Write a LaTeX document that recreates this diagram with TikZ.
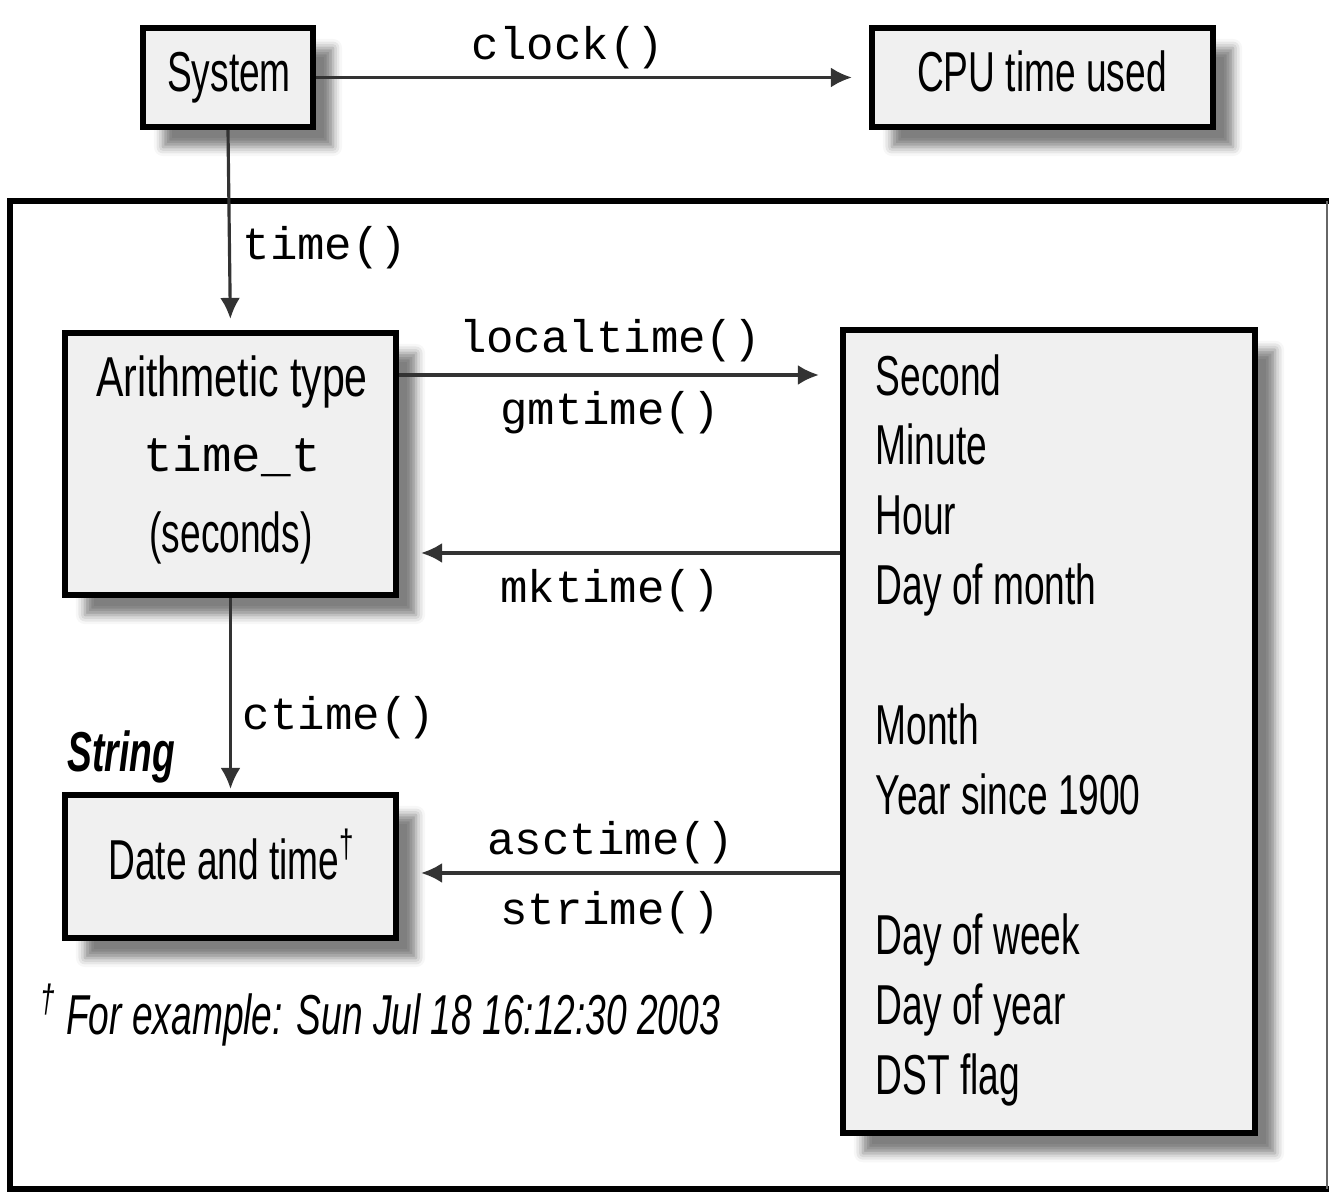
\documentclass[tikz,border=0pt]{standalone}
\usepackage{fontspec}
\setmainfont{Liberation Sans}[FakeStretch=0.66]
\newfontfamily\codefont{Liberation Mono}
\usetikzlibrary{arrows.meta,shadows.blur}
\definecolor{boxfill}{HTML}{F0F0F0}
\definecolor{linegray}{HTML}{333333}
\tikzset{
  x=0.01cm, y=-0.01cm,
  box/.style={draw=black, line width=1.7pt, fill=boxfill, inner sep=0pt,
    blur shadow={shadow xshift=0.2cm, shadow yshift=-0.2cm, shadow blur radius=0.09cm, shadow opacity=50}},
  txt/.style={font=\fontsize{16}{18}\selectfont, anchor=base, inner sep=0pt},
  ltxt/.style={txt, anchor=base west},
  code/.style={font=\codefont\fontsize{13}{15}\selectfont, anchor=base, inner sep=0pt},
  arr/.style={draw=linegray, line width=0.9pt, -{Latex[length=0.21cm,width=0.2cm]}},
}
\begin{document}
\begin{tikzpicture}
\useasboundingbox (0,0) rectangle (1329,1192);
% outer frame
\draw[line width=1.6pt, line join=miter] (1329,201) -- (10,201) -- (10,1189) -- (1329,1189);
\draw[line width=0.5pt, black!60] (1327,201) -- (1327,1189);

% boxes
\node[box, minimum width=1.70cm, minimum height=0.99cm] (sys) at (228,77.5) {};
\node[box, minimum width=3.41cm, minimum height=0.99cm] (cpu) at (1042.5,77.5) {};
\node[box, minimum width=3.31cm, minimum height=2.62cm] (arith) at (230.5,464) {};
\node[box, minimum width=3.31cm, minimum height=1.43cm] (date) at (230.5,866.5) {};
\node[box, minimum width=4.12cm, minimum height=8.03cm] (big) at (1049,731.5) {};

% box texts
\node[txt] (systxt) at (229,92) {System};
\node[txt] (cputxt) at (1042,92) {CPU time used};
\node[txt, font=\addfontfeature{FakeStretch=0.73}\fontsize{16}{18}\selectfont] (ar1) at (232,397) {Arithmetic type};
\node[code, font=\codefont\fontsize{14}{16}\selectfont] (ar2) at (232,472) {time\_t};
\node[txt] (ar3) at (231,553) {(seconds)};
\node[txt] (datetxt) at (232,880) {Date and time\textsuperscript{†}};

\node[ltxt] (f1) at (875,396) {Second};
\node[ltxt] (f2) at (875,465) {Minute};
\node[ltxt] (f3) at (875,535) {Hour};
\node[ltxt] (f4) at (875,605) {Day of month};
\node[ltxt] (f5) at (875,745) {Month};
\node[ltxt] (f6) at (875,815) {Year since 1900};
\node[ltxt] (f7) at (875,955) {Day of week};
\node[ltxt] (f8) at (875,1025) {Day of year};
\node[ltxt] (f9) at (875,1095) {DST flag};

% connectors
\coordinate (y375) at (0,375);
\coordinate (y553) at (0,553);
\coordinate (y873) at (0,873);
\draw[arr, shorten >=0.17cm] (sys.east) -- (cpu.west);
\draw[arr, shorten >=0.11cm] (sys.south) -- (arith.north);
\draw[arr, shorten >=0.21cm] (arith.east |- y375) -- (big.west |- y375);
\draw[arr, shorten >=0.22cm] (big.west |- y553) -- (arith.east |- y553);
\draw[arr, shorten >=0.03cm] (arith.south) -- (date.north);
\draw[arr, shorten >=0.22cm] (big.west |- y873) -- (date.east |- y873);

% connector labels
\node[code] (lclock) at (568,60) {clock()};
\node[code] (ltime) at (325,260) {time()};
\node[code] (llocal) at (610,353) {localtime()};
\node[code] (lgm) at (610,425) {gmtime()};
\node[code] (lmk) at (610,603) {mktime()};
\node[code] (lctime) at (339,730) {ctime()};
\node[code] (lasc) at (611,855) {asctime()};
\node[code] (lstr) at (610,925) {strime()};
\node[ltxt, font=\bfseries\itshape\fontsize{16}{18}\selectfont] (lstring) at (67,772) {String};

% footnote
\node[ltxt, font=\itshape\fontsize{16}{18}\selectfont] (foot) at (40,1035) {\textsuperscript{†}\,For example: Sun Jul 18 16:12:30 2003};
\end{tikzpicture}
\end{document}
